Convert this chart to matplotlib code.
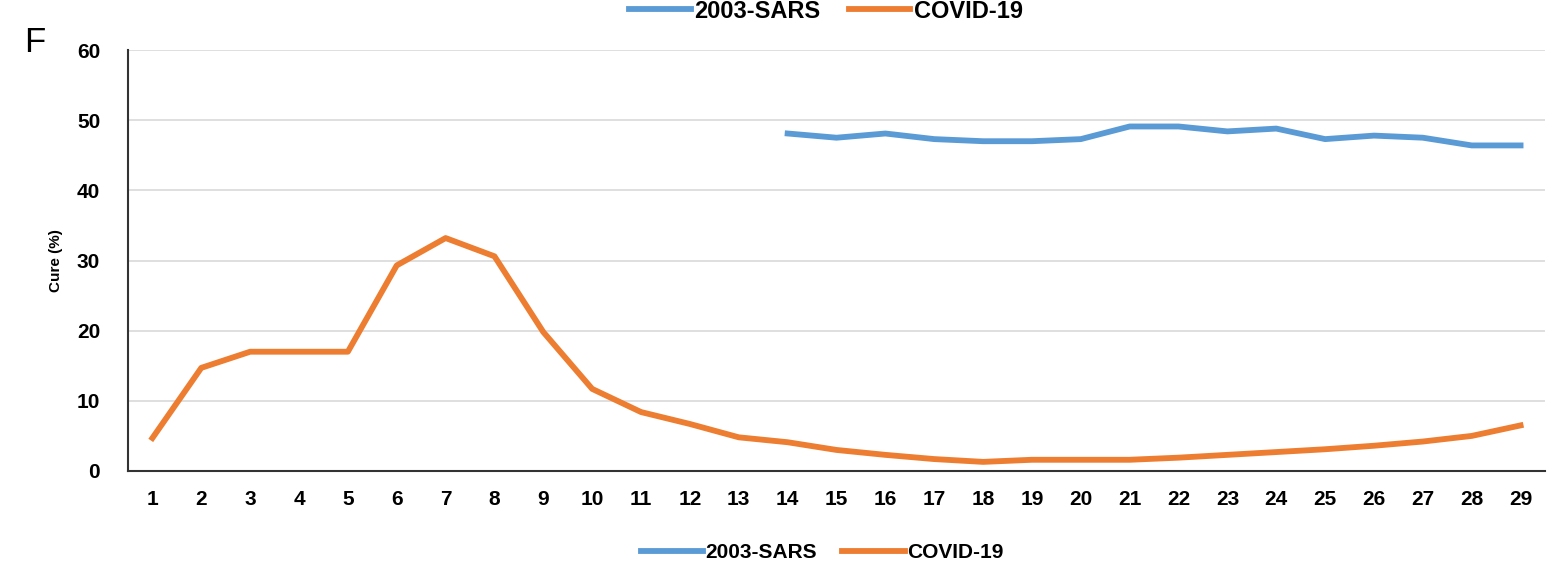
import matplotlib
matplotlib.use("Agg")
import matplotlib.pyplot as plt
import numpy as np

plt.rcParams["font.family"] = ["Liberation Sans", "DejaVu Sans"]

days = list(range(1, 30))
covid = [4.7, 14.7, 17.0, 17.0, 17.0, 29.3, 33.2, 30.6, 19.8, 11.7,
         8.4, 6.7, 4.8, 4.1, 3.0, 2.3, 1.7, 1.3, 1.6, 1.6,
         1.6, 1.9, 2.3, 2.7, 3.1, 3.6, 4.2, 5.0, 6.5]
sars_days = list(range(14, 30))
sars = [48.1, 47.5, 48.1, 47.3, 47.0, 47.0, 47.3, 49.1, 49.1, 48.4,
        48.8, 47.3, 47.8, 47.5, 46.4, 46.4]
yticks = [0, 10, 20, 30, 40, 50, 60]

BLUE = "#5B9BD5"
ORANGE = "#ED7D31"

fig = plt.figure(figsize=(15.6, 5.83), dpi=100)
ax = fig.add_axes([128 / 1560, 1 - 471 / 583, (1545 - 128) / 1560, (471 - 50) / 583])

ax.plot(sars_days, sars, color=BLUE, lw=4.2, label="2003-SARS", solid_joinstyle="round")
ax.plot(days, covid, color=ORANGE, lw=4.2, label="COVID-19", solid_joinstyle="round")

ax.set_xlim(0.5, 29.5)
ax.set_ylim(0, 60)
ax.set_xticks(days)
ax.set_xticklabels([str(d) for d in days], fontsize=15, fontweight="bold")
ax.set_yticks(yticks)
ax.set_yticklabels([str(v) for v in yticks], fontsize=15, fontweight="bold")
ax.tick_params(axis="both", length=0)
ax.tick_params(axis="x", pad=14)
ax.tick_params(axis="y", pad=20)
ax.yaxis.grid(True, color="#d9d9d9", lw=1.2)
ax.set_axisbelow(True)
for side in ["top", "right"]:
    ax.spines[side].set_visible(False)
for side in ["left", "bottom"]:
    ax.spines[side].set_color("#333333")
    ax.spines[side].set_linewidth(1.5)

ax.set_ylabel("Cure (%)", fontsize=11, fontweight="bold", labelpad=10)

fig.text(35 / 1560, 1 - 42 / 583, "F", fontsize=25, ha="center", va="center")

handles, labels = ax.get_legend_handles_labels()
# bottom legend
fig.legend(handles, labels, loc="center", bbox_to_anchor=(822 / 1560, 1 - 553 / 583),
           ncol=2, frameon=False, prop={"weight": "bold", "size": 15},
           handlelength=3.0, handletextpad=0.1, columnspacing=1.2)
# top legend, right at the figure edge
fig.legend(handles, labels, loc="center", bbox_to_anchor=(826 / 1560, 1 - 11 / 583),
           ncol=2, frameon=False, prop={"weight": "bold", "size": 17},
           handlelength=2.6, handletextpad=0.15, columnspacing=1.2,
           borderpad=0.0)

fig.savefig("out.png", dpi=100)
